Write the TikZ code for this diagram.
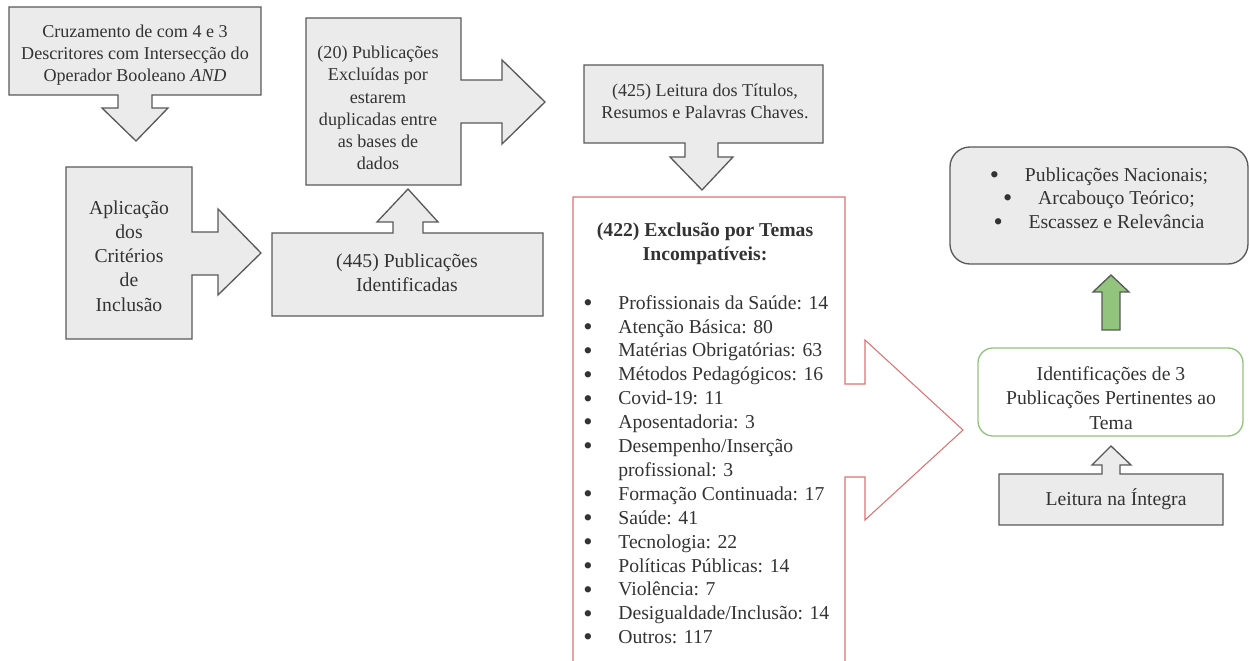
\documentclass[tikz,border=0pt]{standalone}
\usepackage{fontspec}
\setmainfont{Liberation Serif}
\usetikzlibrary{calc}
\definecolor{boxgray}{HTML}{EBEBEB}
\definecolor{linegray}{HTML}{595959}
\definecolor{txtgray}{HTML}{333333}
\definecolor{exclred}{HTML}{DD7272}
\definecolor{selgreen}{HTML}{93C47D}
\newcommand{\bul}{\makebox[0.7cm][l]{\raisebox{-0.25ex}{\fontsize{15}{0}\selectfont\textbullet}}}
\begin{document}
\begin{tikzpicture}[x=0.02cm,y=-0.02cm,
    txt/.style={text=txtgray,align=center,inner sep=0pt,font=\fontsize{11.2}{13.8}\selectfont},
    small/.style={font=\fontsize{10.3}{12.6}\selectfont},
    callout/.style={draw=linegray,fill=boxgray,line width=0.75pt,line join=miter}]
\useasboundingbox (0,0) rectangle (1249,661);
% descritores
\draw[callout] (9,7) -- (261,7) -- (261,95) -- (152,95) -- (152,108) -- (168,108)
  -- (136,141) -- (102,108) -- (118,108) -- (118,95) -- (9,95) -- cycle;
\node[txt,small] (cruz) at (135,55) {Cruzamento de com 4 e 3\\Descritores com Intersecção do\\Operador Booleano \textit{AND}};
% criterios de inclusao
\draw[callout] (66,167) -- (192,167) -- (192,232) -- (218,232) -- (218,209) -- (261,253)
  -- (218,295) -- (218,275) -- (192,275) -- (192,339) -- (66,339) -- cycle;
\node[txt] (apl) at (129,256) {Aplicação\\dos\\Critérios\\de\\Inclusão};
% identificadas
\draw[callout] (272,233) -- (393,233) -- (393,222) -- (377,222) -- (408,189) -- (438,222)
  -- (423,222) -- (423,233) -- (543,233) -- (543,316) -- (272,316) -- cycle;
\node[txt] (ident) at (407,273) {(445) Publicações\\Identificadas};
% duplicadas
\draw[callout] (306,18) -- (461,18) -- (461,80) -- (502,80) -- (502,60) -- (545,102)
  -- (502,144) -- (502,123) -- (461,123) -- (461,185) -- (306,185) -- cycle;
\node[txt,small] (dupl) at (378,108) {(20) Publicações\\Excluídas por\\estarem\\duplicadas entre\\as bases de\\dados};
% titulos e resumos
\draw[callout] (584,65) -- (823,65) -- (823,143) -- (718,143) -- (718,157) -- (733,157)
  -- (702,190) -- (670,157) -- (685,157) -- (685,143) -- (584,143) -- cycle;
\node[txt,small] (tit) at (705,101) {(425) Leitura dos Títulos,\\Resumos e Palavras Chaves.};
% exclusao por temas
\draw[exclred,fill=white,line width=0.6pt] (573,661) -- (573,197) -- (845,197) -- (845,384)
  -- (865,384) -- (865,340) -- (963,430) -- (865,520) -- (865,477) -- (845,477) -- (845,661);
\node[txt] (excl) at (705,244) {\bfseries (422) Exclusão por Temas\\\bfseries Incompatíveis:};
\node[txt,align=left,anchor=north west,font=\fontsize{11.2}{13.6}\selectfont] (temas) at (583,295)
  {\bul Profissionais da Saúde: 14\\\bul Atenção Básica: 80\\\bul Matérias Obrigatórias: 63\\
   \bul Métodos Pedagógicos: 16\\\bul Covid-19: 11\\\bul Aposentadoria: 3\\
   \bul Desempenho/Inserção\\\hspace*{0.7cm}profissional: 3\\\bul Formação Continuada: 17\\
   \bul Saúde: 41\\\bul Tecnologia: 22\\\bul Políticas Públicas: 14\\\bul Violência: 7\\
   \bul Desigualdade/Inclusão: 14\\\bul Outros: 117};
% resultado
\draw[linegray,fill=boxgray,line width=0.75pt,rounded corners=0.4cm] (950,147) rectangle (1248,264);
\node[txt,font=\fontsize{11.2}{13.3}\selectfont] (crit) at (1099,199)
  {\bul Publicações Nacionais;\\\bul Arcabouço Teórico;\\\bul Escassez e Relevância};
\draw[selgreen,fill=white,line width=0.75pt,rounded corners=0.3cm] (978,348) rectangle (1243,436);
\node[txt] (sel) at (1111,398) {Identificações de 3\\Publicações Pertinentes ao\\Tema};
\coordinate (gtip) at (1111,275);
\draw[linegray,fill=selgreen,line width=0.75pt] (gtip) -- ++(18,17) -- ++(-9,0) -- ++(0,38)
  -- ++(-18,0) -- ++(0,-38) -- ++(-9,0) -- cycle;
% leitura na integra
\draw[callout] (999,474) -- (1102,474) -- (1102,465) -- (1092,465) -- (1111,446) -- (1131,465)
  -- (1120,465) -- (1120,474) -- (1223,474) -- (1223,525) -- (999,525) -- cycle;
\node[txt] (integ) at (1116,499) {Leitura na Íntegra};
\end{tikzpicture}
\end{document}
